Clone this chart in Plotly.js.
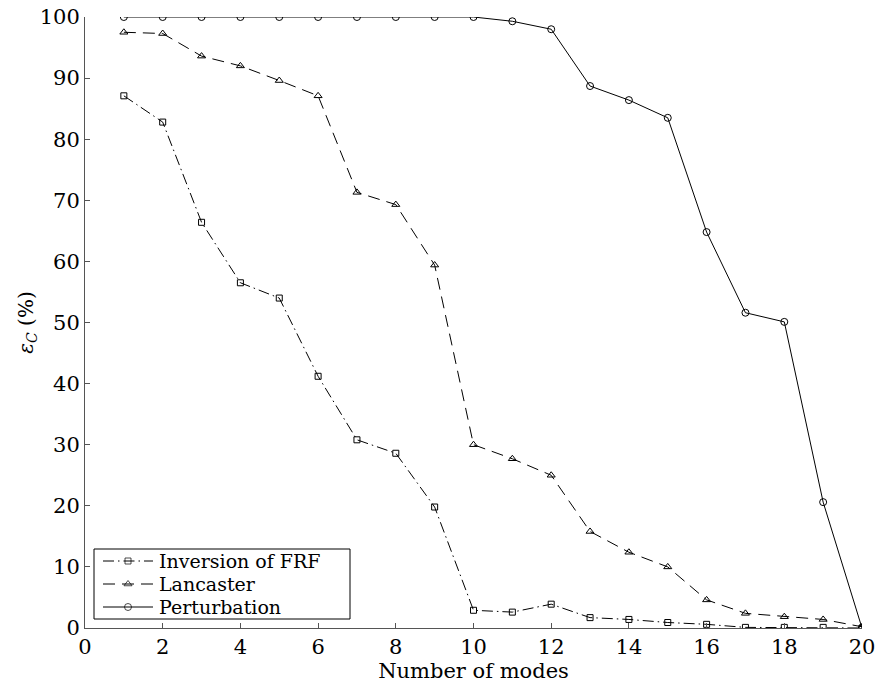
<!DOCTYPE html>
<html>
<head>
<meta charset="utf-8">
<script src="https://cdn.plot.ly/plotly-3.0.1.min.js"></script>
<style>html,body{margin:0;padding:0;background:#fff;}#chart{width:877px;height:689px;}</style>
</head>
<body>
<div id="chart"></div>
<script>
const modes = [1,2,3,4,5,6,7,8,9,10,11,12,13,14,15,16,17,18,19,20];
const inversionFRF = [87.1,82.8,66.4,56.5,54.0,41.2,30.8,28.6,19.8,2.9,2.6,3.9,1.7,1.4,0.9,0.6,0.1,0.1,0.1,0.0];
const lancaster = [97.5,97.3,93.6,92.0,89.6,87.1,71.3,69.3,59.4,30.0,27.7,25.0,15.8,12.4,10.0,4.6,2.4,1.85,1.4,0.2];
const perturbation = [100,100,100,100,100,100,100,100,100,100,99.3,98.0,88.7,86.4,83.5,64.8,51.6,50.1,20.6,0.0];
const seriesNames = ["Inversion of FRF","Lancaster","Perturbation"];
const xTicks = [0,2,4,6,8,10,12,14,16,18,20];
const yTicks = [0,10,20,30,40,50,60,70,80,90,100];

const FAM = "DejaVu Serif, Liberation Serif, serif";
const font = {family: FAM, size: 21, color: "#000"};
const styles = [
  {dash: "11px,4px,1.5px,4px", sym: "square-open", size: 6},
  {dash: "12px,7px", sym: "triangle-up-open", size: 7},
  {dash: "solid", sym: "circle-open", size: 7}
];
const seriesValues = [inversionFRF, lancaster, perturbation];

const data = [];
seriesValues.forEach((vals, i) => {
  data.push({x: modes, y: vals, name: seriesNames[i], type: "scatter", mode: "lines+markers",
    showlegend: false,
    line: {color: "#000", width: 1, dash: styles[i].dash},
    marker: {symbol: styles[i].sym, size: styles[i].size, color: "#000", line: {color: "#000", width: 1}}});
});

// Legend box (drawn on an overlay axis in plot-fraction units, like MATLAB's legend box)
const W = 777, H = 611;
const lgX0 = 9 / W, lgX1 = 265 / W, lgY0 = 9 / H, lgY1 = 79 / H;
const rowY = [67 / H, 44 / H, 21 / H];
const sampleX = [18 / W, 43 / W, 68 / W];
const textX = 73 / W;
const legendFont = {family: FAM, size: 19, color: "#000"};
const annotations = [];
seriesNames.forEach((nm, i) => {
  data.push({x: sampleX, y: [rowY[i], rowY[i], rowY[i]], xaxis: "x2", yaxis: "y2",
    type: "scatter", mode: "lines+markers", showlegend: false, hoverinfo: "skip",
    line: {color: "#000", width: 1, dash: styles[i].dash},
    marker: {symbol: styles[i].sym, size: [0, styles[i].size, 0], color: "#000", line: {color: "#000", width: 1}}});
  annotations.push({xref: "paper", yref: "paper", x: textX, y: rowY[i], xanchor: "left", yanchor: "middle",
    text: nm, showarrow: false, font: legendFont, borderpad: 0});
});

const layout = {
  width: 877, height: 689,
  margin: {l: 85, r: 15, t: 17, b: 61},
  paper_bgcolor: "#fff", plot_bgcolor: "#fff",
  font: font,
  showlegend: false,
  shapes: [{type: "rect", xref: "paper", yref: "paper", x0: lgX0, x1: lgX1, y0: lgY0, y1: lgY1,
    line: {color: "#000", width: 1}, fillcolor: "#fff", layer: "below"}],
  annotations: annotations,
  xaxis: {range: [0, 20], tickvals: xTicks, ticktext: xTicks.map(String),
    ticks: "inside", ticklen: 5, tickcolor: "#555", showline: true, linecolor: "#555", linewidth: 1,
    showgrid: false, zeroline: false, mirror: false,
    title: {text: "Number of modes", font: font, standoff: 0}},
  yaxis: {range: [0, 100], tickvals: yTicks, ticktext: yTicks.map(String),
    ticks: "inside", ticklen: 5, tickcolor: "#555", showline: true, linecolor: "#555", linewidth: 1,
    showgrid: false, zeroline: false, mirror: false,
    title: {text: "<i>ε</i><sub><i>C</i></sub> (%)", font: {family: FAM, size: 20, color: "#000"}, standoff: 0}},
  xaxis2: {overlaying: "x", range: [0, 1], visible: false, fixedrange: true},
  yaxis2: {overlaying: "y", range: [0, 1], visible: false, fixedrange: true}
};
Plotly.newPlot("chart", data, layout, {displayModeBar: false, staticPlot: true});
</script>
</body>
</html>
